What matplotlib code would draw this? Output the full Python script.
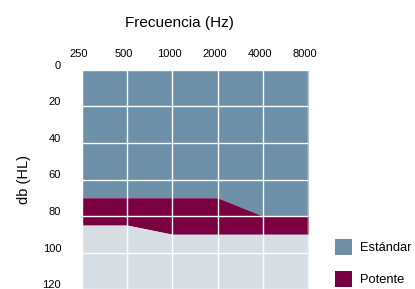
import matplotlib
matplotlib.use("Agg")
import matplotlib.pyplot as plt
import matplotlib.transforms as mtransforms
from matplotlib.patches import Patch

plt.rcParams['font.family'] = ['Liberation Sans', 'DejaVu Sans']

freqs = ['250', '500', '1000', '2000', '4000', '8000']
estandar_limit = [70, 70, 70, 70, 80, 80]
potente_limit = [85, 85, 90, 90, 90, 90]
y_ticks = [0, 20, 40, 60, 80, 100, 120]
y_max = 120

c_std = '#6d8fa7'
c_pot = '#7b0041'
c_rest = '#d6dee4'

fig = plt.figure(figsize=(4.15, 2.89), dpi=100)
ax = fig.add_axes([82/415, 0.0, (308-82)/415, 1 - 70/289])

x = list(range(len(freqs)))
ax.fill_between(x, 0, estandar_limit, color=c_std, lw=0, zorder=1)
ax.fill_between(x, estandar_limit, potente_limit, color=c_pot, lw=0, zorder=1)
ax.fill_between(x, potente_limit, y_max, color=c_rest, lw=0, zorder=1)

ax.set_xlim(0, len(freqs) - 1)
ax.set_ylim(y_max, 0)

for xi in x:
    ax.axvline(xi, color='white', lw=1.0, zorder=2)
for yv in y_ticks:
    ax.axhline(yv, color='white', lw=1.0, zorder=2)

for s in ax.spines.values():
    s.set_visible(False)

ax.xaxis.tick_top()
ax.set_xticks(x)
ax.set_xticklabels(freqs, fontsize=8)
ax.tick_params(axis='x', length=0, pad=8)
ax.set_yticks(y_ticks)
ax.set_yticklabels([str(v) for v in y_ticks], fontsize=8)
ax.tick_params(axis='y', length=0, pad=15)
off = mtransforms.ScaledTranslation(0, 5/100, fig.dpi_scale_trans)
for lab in ax.get_yticklabels():
    lab.set_transform(lab.get_transform() + off)
offx = mtransforms.ScaledTranslation(-3/100, 0, fig.dpi_scale_trans)
for lab in ax.get_xticklabels():
    lab.set_transform(lab.get_transform() + offx)

fig.text(179/415, 1 - 23/289, 'Frecuencia (Hz)', fontsize=11, ha='center', va='center')
fig.text(24/415, 1 - 180/289, 'db (HL)', fontsize=10.5, ha='center', va='center', rotation=90)

handles = [Patch(facecolor=c_std, edgecolor='none', label='Estándar'),
           Patch(facecolor=c_pot, edgecolor='none', label='Potente')]
fig.legend(handles=handles, loc='center left', bbox_to_anchor=(335/415, 1 - 263/289),
           frameon=False, fontsize=9.3, handlelength=1.3, handleheight=1.6,
           labelspacing=1.2, handletextpad=0.6, borderpad=0, borderaxespad=0)

fig.savefig('out.png', dpi=100)
